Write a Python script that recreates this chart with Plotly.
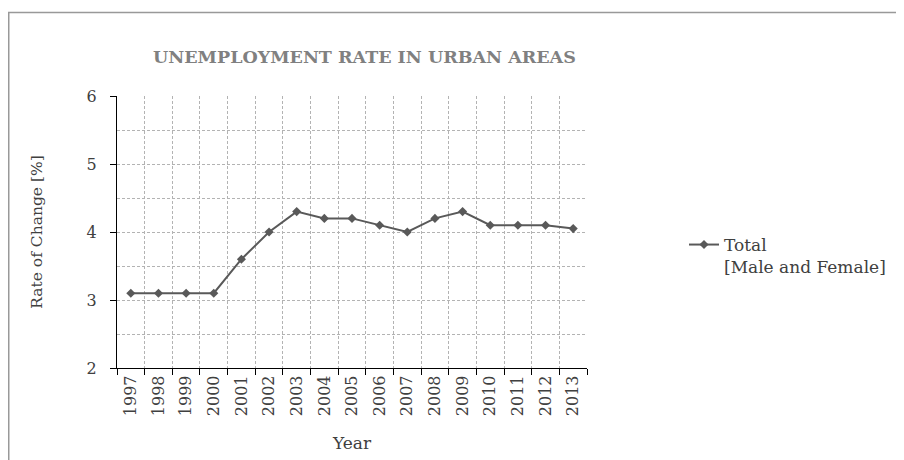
import plotly.graph_objects as go

years = ["1997", "1998", "1999", "2000", "2001", "2002", "2003", "2004", "2005",
         "2006", "2007", "2008", "2009", "2010", "2011", "2012", "2013"]
total = [3.1, 3.1, 3.1, 3.1, 3.6, 4.0, 4.3, 4.2, 4.2, 4.1, 4.0, 4.2, 4.3, 4.1, 4.1, 4.1, 4.05]
y_ticks = [2, 3, 4, 5, 6]

FONT = "DejaVu Serif"
TXT = "#404040"
GRID = "#b3b3b3"

OFF = 8  # page body margin
W, H = 904 - OFF, 460 - OFF
# plot area in page pixels: x 117..587, y 96..368
PL, PR, PT, PB = 117, 587, 96, 368
L, T = PL - OFF, PT - OFF
R, B = W - (PR - OFF), H - (PB - OFF)
pw, ph = PR - PL, PB - PT

def px(x):  # page pixel -> paper
    return (x - PL) / pw

def py(y):
    return (PB - y) / ph

fig = go.Figure()
fig.add_trace(go.Scatter(
    x=years, y=total, mode="lines+markers",
    name="Total<br>[Male and Female]",
    line=dict(color="#595959", width=2),
    marker=dict(symbol="diamond", size=7, color="#595959"),
))

fig.update_layout(
    width=W, height=H,
    margin=dict(l=L, r=R, t=T, b=B),
    paper_bgcolor="white", plot_bgcolor="white",
    font=dict(family=FONT, color=TXT, size=15),
    showlegend=True,
    legend=dict(x=px(684), y=py(227), xanchor="left", yanchor="top",
                font=dict(size=17, color=TXT), valign="top",
                bgcolor="rgba(0,0,0,0)", tracegroupgap=0),
    annotations=[dict(
        text="<b>UNEMPLOYMENT RATE IN URBAN AREAS</b>",
        x=px(364), y=py(57), xref="paper", yref="paper",
        xanchor="center", yanchor="middle", showarrow=False,
        font=dict(size=17.5, color="#808080", family=FONT),
    )],
    shapes=[
        dict(type="line", xref="paper", yref="paper",
             x0=px(8), x1=px(910), y0=py(12.5), y1=py(12.5),
             line=dict(color="#999999", width=1.5)),
        dict(type="line", xref="paper", yref="paper",
             x0=px(8.75), x1=px(8.75), y0=py(12), y1=py(470),
             line=dict(color="#999999", width=1.5)),
    ],
)

fig.update_xaxes(
    type="category", range=[-0.5, len(years) - 0.5],
    tickson="boundaries", ticks="outside", ticklen=6, tickcolor="black",
    showline=True, linecolor="black", linewidth=1.2,
    showgrid=True, gridcolor=GRID, griddash="3px,2px", gridwidth=1,
    tickangle=-90, tickfont=dict(size=16, color=TXT),
    title=dict(text="Year", font=dict(size=17, color=TXT), standoff=21),
    zeroline=False,
)
fig.update_yaxes(
    range=[2, 6], tickvals=y_ticks, ticks="outside", ticklen=6, tickcolor="black",
    showline=True, linecolor="black", linewidth=1.2,
    showgrid=True, gridcolor=GRID, griddash="3px,2px", gridwidth=1,
    minor=dict(dtick=0.5, showgrid=True, gridcolor=GRID, griddash="3px,2px", gridwidth=1),
    tickfont=dict(size=16, color=TXT), ticklabelstandoff=10,
    title=dict(text="Rate of Change [%]", font=dict(size=15.5, color=TXT), standoff=40),
    zeroline=False,
)

fig.write_html("out.html")
